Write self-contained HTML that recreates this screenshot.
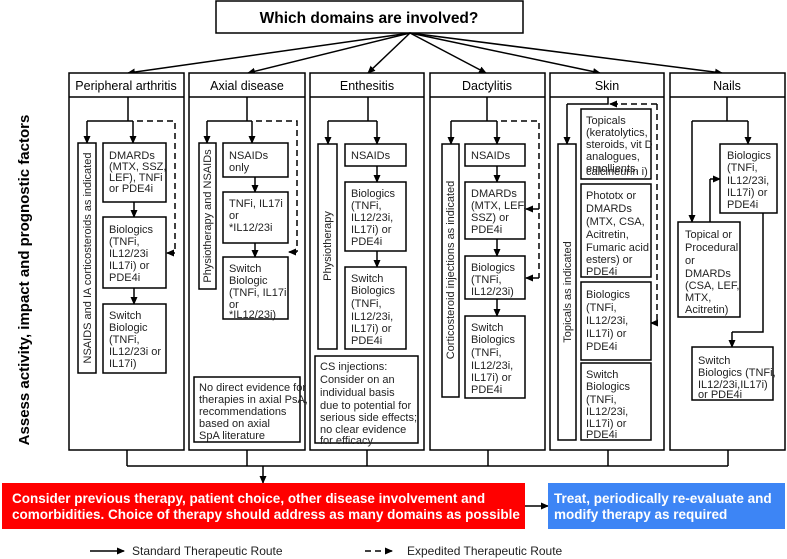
<!DOCTYPE html>
<html><head><meta charset="utf-8"><style>
html,body{margin:0;padding:0;background:#fff;}
svg{display:block;font-family:"Liberation Sans",Arial,sans-serif;}
.b{fill:#fff;stroke:#000;stroke-width:1.5;}
.l{fill:none;stroke:#000;stroke-width:1.5;}
.d{fill:none;stroke:#000;stroke-width:1.5;stroke-dasharray:6,4;}
.t{font-size:11px;fill:#222;}
.h{font-size:12.5px;fill:#000;text-anchor:middle;}
</style></head><body>
<svg width="787" height="559" viewBox="0 0 787 559" xmlns="http://www.w3.org/2000/svg">
<defs>
<marker id="a" markerWidth="8" markerHeight="8" refX="7" refY="4" orient="auto" markerUnits="userSpaceOnUse"><path d="M0,0.5 L8,4 L0,7.5 Z" fill="#000"/></marker>
</defs>
<!-- title -->
<rect class="b" x="216" y="1" width="307" height="32"/>
<text x="369" y="23" font-size="15.5" font-weight="bold" text-anchor="middle">Which domains are involved?</text>
<g class="l" marker-end="url(#a)">
<line x1="410" y1="33" x2="128" y2="73"/>
<line x1="410" y1="33" x2="248" y2="73"/>
<line x1="410" y1="33" x2="368" y2="73"/>
<line x1="410" y1="33" x2="486" y2="73"/>
<line x1="410" y1="33" x2="600" y2="73"/>
<line x1="410" y1="33" x2="722" y2="73"/>
</g>
<text transform="translate(29,280) rotate(-90)" font-size="15" font-weight="bold" text-anchor="middle">Assess activity, impact and prognostic factors</text>

<!-- columns -->
<g>
<rect class="b" x="69" y="73" width="115" height="377"/><line class="l" x1="69" y1="97" x2="184" y2="97"/>
<rect class="b" x="189" y="73" width="116" height="377"/><line class="l" x1="189" y1="97" x2="305" y2="97"/>
<rect class="b" x="310" y="73" width="114" height="377"/><line class="l" x1="310" y1="97" x2="424" y2="97"/>
<rect class="b" x="430" y="73" width="115" height="377"/><line class="l" x1="430" y1="97" x2="545" y2="97"/>
<rect class="b" x="550" y="73" width="114" height="377"/><line class="l" x1="550" y1="97" x2="664" y2="97"/>
<rect class="b" x="670" y="73" width="115" height="377"/><line class="l" x1="670" y1="97" x2="785" y2="97"/>
</g>
<text class="h" x="126" y="90">Peripheral arthritis</text>
<text class="h" x="247" y="90">Axial disease</text>
<text class="h" x="367" y="90">Enthesitis</text>
<text class="h" x="487" y="90">Dactylitis</text>
<text class="h" x="607" y="90">Skin</text>
<text class="h" x="727" y="90">Nails</text>

<!-- Peripheral -->
<path class="l" d="M128,97 V121 M87,121 H133"/>
<line class="l" x1="87" y1="121" x2="87" y2="143" marker-end="url(#a)"/>
<line class="l" x1="133" y1="121" x2="133" y2="143" marker-end="url(#a)"/>
<path class="d" d="M137,121 H175 V253"/>
<line class="l" x1="175" y1="253" x2="167" y2="253" marker-end="url(#a)"/>
<rect class="b" x="78" y="143" width="18" height="230"/>
<text class="t" transform="translate(91,258) rotate(-90)" text-anchor="middle">NSAIDS and IA corticosteroids as indicated</text>
<rect class="b" x="103" y="143" width="63" height="59"/>
<text class="t"><tspan x="109" y="159">DMARDs</tspan><tspan x="109" y="170">(MTX, SSZ,</tspan><tspan x="109" y="181">LEF), TNFi</tspan><tspan x="109" y="192">or PDE4i</tspan></text>
<line class="l" x1="134" y1="202" x2="134" y2="217" marker-end="url(#a)"/>
<rect class="b" x="103" y="217" width="63" height="71"/>
<text class="t"><tspan x="109" y="233">Biologics</tspan><tspan x="109" y="245">(TNFi,</tspan><tspan x="109" y="257">IL12/23i</tspan><tspan x="109" y="269">IL17i) or</tspan><tspan x="109" y="281">PDE4i</tspan></text>
<line class="l" x1="134" y1="288" x2="134" y2="304" marker-end="url(#a)"/>
<rect class="b" x="103" y="304" width="63" height="69"/>
<text class="t"><tspan x="109" y="319">Switch</tspan><tspan x="109" y="331">Biologic</tspan><tspan x="109" y="343">(TNFi,</tspan><tspan x="109" y="355">IL12/23i or</tspan><tspan x="109" y="367">IL17i)</tspan></text>

<!-- Axial -->
<path class="l" d="M247,97 V121 M207,121 H252"/>
<line class="l" x1="207" y1="121" x2="207" y2="143" marker-end="url(#a)"/>
<line class="l" x1="252" y1="121" x2="252" y2="143" marker-end="url(#a)"/>
<path class="d" d="M256,121 H297 V252"/>
<line class="l" x1="297" y1="252" x2="289" y2="252" marker-end="url(#a)"/>
<rect class="b" x="199" y="143" width="17" height="146"/>
<text class="t" transform="translate(211,216) rotate(-90)" text-anchor="middle">Physiotherapy and NSAIDs</text>
<rect class="b" x="223" y="143" width="65" height="34"/>
<text class="t"><tspan x="229" y="159">NSAIDs</tspan><tspan x="229" y="171">only</tspan></text>
<line class="l" x1="255" y1="177" x2="255" y2="192" marker-end="url(#a)"/>
<rect class="b" x="223" y="192" width="65" height="51"/>
<text class="t"><tspan x="229" y="207">TNFi, IL17i</tspan><tspan x="229" y="219">or</tspan><tspan x="229" y="231">*IL12/23i</tspan></text>
<line class="l" x1="255" y1="243" x2="255" y2="257" marker-end="url(#a)"/>
<rect class="b" x="223" y="257" width="65" height="62"/>
<text class="t"><tspan x="229" y="272">Switch</tspan><tspan x="229" y="284">Biologic</tspan><tspan x="229" y="296">(TNFi, IL17i</tspan><tspan x="229" y="308">or</tspan><tspan x="229" y="318">*IL12/23i)</tspan></text>
<rect class="b" x="194" y="377" width="106" height="65"/>
<text class="t"><tspan x="199" y="391">No direct evidence for</tspan><tspan x="199" y="403">therapies in axial PsA,</tspan><tspan x="199" y="415">recommendations</tspan><tspan x="199" y="427">based on axial</tspan><tspan x="199" y="439">SpA literature</tspan></text>

<!-- Enthesitis -->
<path class="l" d="M368,97 V121 M328,121 H377"/>
<line class="l" x1="328" y1="121" x2="328" y2="144" marker-end="url(#a)"/>
<line class="l" x1="377" y1="121" x2="377" y2="144" marker-end="url(#a)"/>
<rect class="b" x="318" y="144" width="19" height="205"/>
<text class="t" transform="translate(331,246) rotate(-90)" text-anchor="middle">Physiotherapy</text>
<rect class="b" x="345" y="144" width="61" height="22"/>
<text class="t" x="351" y="159">NSAIDs</text>
<line class="l" x1="377" y1="166" x2="377" y2="182" marker-end="url(#a)"/>
<rect class="b" x="345" y="182" width="61" height="69"/>
<text class="t"><tspan x="351" y="197">Biologics</tspan><tspan x="351" y="209">(TNFi,</tspan><tspan x="351" y="221">IL12/23i,</tspan><tspan x="351" y="233">IL17i) or</tspan><tspan x="351" y="245">PDE4i</tspan></text>
<line class="l" x1="377" y1="251" x2="377" y2="267" marker-end="url(#a)"/>
<rect class="b" x="345" y="267" width="61" height="82"/>
<text class="t"><tspan x="351" y="282">Switch</tspan><tspan x="351" y="294">Biologics</tspan><tspan x="351" y="307">(TNFi,</tspan><tspan x="351" y="320">IL12/23i,</tspan><tspan x="351" y="332">IL17i) or</tspan><tspan x="351" y="344">PDE4i</tspan></text>
<rect class="b" x="315" y="356" width="103" height="87"/>
<text class="t"><tspan x="320" y="370">CS injections:</tspan><tspan x="320" y="383">Consider on an</tspan><tspan x="320" y="396">individual basis</tspan><tspan x="320" y="409">due to potential for</tspan><tspan x="320" y="421">serious side effects;</tspan><tspan x="320" y="433">no clear evidence</tspan><tspan x="320" y="444">for efficacy</tspan></text>

<!-- Dactylitis -->
<path class="l" d="M487,97 V121 M451,121 H497"/>
<line class="l" x1="451" y1="121" x2="451" y2="144" marker-end="url(#a)"/>
<line class="l" x1="497" y1="121" x2="497" y2="144" marker-end="url(#a)"/>
<path class="d" d="M501,121 H539 V278"/>
<line class="l" x1="539" y1="209" x2="526" y2="209" marker-end="url(#a)"/>
<line class="l" x1="539" y1="278" x2="526" y2="278" marker-end="url(#a)"/>
<rect class="b" x="442" y="144" width="17" height="253"/>
<text class="t" transform="translate(454,270) rotate(-90)" text-anchor="middle">Corticosteroid injections as indicated</text>
<rect class="b" x="465" y="144" width="60" height="22"/>
<text class="t" x="471" y="159">NSAIDs</text>
<line class="l" x1="497" y1="166" x2="497" y2="182" marker-end="url(#a)"/>
<rect class="b" x="465" y="182" width="60" height="57"/>
<text class="t"><tspan x="471" y="197">DMARDs</tspan><tspan x="471" y="209">(MTX, LEF,</tspan><tspan x="471" y="221">SSZ) or</tspan><tspan x="471" y="233">PDE4i</tspan></text>
<line class="l" x1="497" y1="239" x2="497" y2="256" marker-end="url(#a)"/>
<rect class="b" x="465" y="256" width="60" height="43"/>
<text class="t"><tspan x="471" y="271">Biologics</tspan><tspan x="471" y="283">(TNFi,</tspan><tspan x="471" y="295">IL12/23i)</tspan></text>
<line class="l" x1="497" y1="299" x2="497" y2="316" marker-end="url(#a)"/>
<rect class="b" x="465" y="316" width="60" height="82"/>
<text class="t"><tspan x="471" y="331">Switch</tspan><tspan x="471" y="343">Biologics</tspan><tspan x="471" y="356">(TNFi,</tspan><tspan x="471" y="369">IL12/23i,</tspan><tspan x="471" y="381">IL17i) or</tspan><tspan x="471" y="393">PDE4i</tspan></text>

<!-- Skin -->
<path class="l" d="M608,97 V104 H567"/>
<line class="l" x1="567" y1="104" x2="567" y2="144" marker-end="url(#a)"/>
<path class="d" d="M657,104 V323 M657,104 H620"/>
<line class="l" x1="618" y1="104" x2="610" y2="104" marker-end="url(#a)"/>
<line class="l" x1="657" y1="323" x2="651" y2="323" marker-end="url(#a)"/>
<rect class="b" x="558" y="144" width="18" height="296"/>
<text class="t" transform="translate(571,292) rotate(-90)" text-anchor="middle">Topicals as indicated</text>
<rect class="b" x="581" y="109" width="70" height="70"/>
<text class="t"><tspan x="586" y="124">Topicals</tspan><tspan x="586" y="136">(keratolytics,</tspan><tspan x="586" y="148">steroids, vit D</tspan><tspan x="586" y="160">analogues,</tspan><tspan x="586" y="172">emollients,</tspan><tspan x="586" y="184" dy="-9">calcineurin i)</tspan></text>
<rect class="b" x="581" y="184" width="70" height="93"/>
<text class="t"><tspan x="586" y="199">Phototx or</tspan><tspan x="586" y="212">DMARDs</tspan><tspan x="586" y="225">(MTX, CSA,</tspan><tspan x="586" y="238">Acitretin,</tspan><tspan x="586" y="251">Fumaric acid</tspan><tspan x="586" y="263">esters) or</tspan><tspan x="586" y="275">PDE4i</tspan></text>
<rect class="b" x="581" y="282" width="70" height="78"/>
<text class="t"><tspan x="586" y="298">Biologics</tspan><tspan x="586" y="311">(TNFi,</tspan><tspan x="586" y="324">IL12/23i,</tspan><tspan x="586" y="337">IL17i) or</tspan><tspan x="586" y="350">PDE4i</tspan></text>
<rect class="b" x="581" y="363" width="70" height="77"/>
<text class="t"><tspan x="586" y="378">Switch</tspan><tspan x="586" y="390">Biologics</tspan><tspan x="586" y="403">(TNFi,</tspan><tspan x="586" y="415">IL12/23i,</tspan><tspan x="586" y="427">IL17i) or</tspan><tspan x="586" y="438">PDE4i</tspan></text>

<!-- Nails -->
<path class="l" d="M727,97 V121 M692,121 H748"/>
<line class="l" x1="748" y1="121" x2="748" y2="144" marker-end="url(#a)"/>
<line class="l" x1="692" y1="121" x2="692" y2="222" marker-end="url(#a)"/>
<path class="l" d="M710,222 V179"/>
<line class="l" x1="710" y1="179" x2="720" y2="179" marker-end="url(#a)"/>
<path class="l" d="M763,213 V332 H732"/>
<line class="l" x1="732" y1="332" x2="732" y2="347" marker-end="url(#a)"/>
<rect class="b" x="720" y="144" width="57" height="69"/>
<text class="t"><tspan x="727" y="159">Biologics</tspan><tspan x="727" y="171">(TNFi,</tspan><tspan x="727" y="184">IL12/23i,</tspan><tspan x="727" y="196">IL17i) or</tspan><tspan x="727" y="208">PDE4i</tspan></text>
<rect class="b" x="678" y="222" width="62" height="95"/>
<text class="t"><tspan x="685" y="238">Topical or</tspan><tspan x="685" y="251">Procedural</tspan><tspan x="685" y="264">or</tspan><tspan x="685" y="277">DMARDs</tspan><tspan x="685" y="289">(CSA, LEF,</tspan><tspan x="685" y="301">MTX,</tspan><tspan x="685" y="313">Acitretin)</tspan></text>
<rect class="b" x="692" y="347" width="81" height="53"/>
<text class="t"><tspan x="698" y="364">Switch</tspan><tspan x="698" y="376">Biologics (TNFi,</tspan><tspan x="698" y="388">IL12/23i,IL17i)</tspan><tspan x="698" y="400" dy="-2">or PDE4i</tspan></text>

<!-- bottom connectors -->
<path class="l" d="M127,450 V466 M247,450 V466 M367,450 V466 M488,450 V466 M608,450 V466 M728,450 V466 M127,466 H728"/>
<line class="l" x1="263" y1="466" x2="263" y2="483" marker-end="url(#a)"/>
<rect x="2" y="483" width="523" height="46" fill="#f00"/>
<text font-size="13.5" font-weight="bold" fill="#fff"><tspan x="12" y="503">Consider previous therapy, patient choice, other disease involvement and</tspan><tspan x="12" y="519">comorbidities. Choice of therapy should address as many domains as possible</tspan></text>
<line class="l" x1="525" y1="506" x2="548" y2="506" marker-end="url(#a)"/>
<rect x="548" y="483" width="237" height="46" fill="#3d85f5"/>
<text font-size="13.5" font-weight="bold" fill="#fff"><tspan x="554" y="503">Treat, periodically re-evaluate and</tspan><tspan x="554" y="519">modify therapy as required</tspan></text>

<!-- legend -->
<line class="l" x1="90" y1="551" x2="124" y2="551" marker-end="url(#a)"/>
<text x="132" y="555" font-size="12" fill="#222">Standard Therapeutic Route</text>
<line class="d" x1="365" y1="551" x2="385" y2="551" stroke-dasharray="4,4"/>
<line class="l" x1="386" y1="551" x2="392" y2="551" marker-end="url(#a)"/>
<text x="407" y="555" font-size="12" fill="#222">Expedited Therapeutic Route</text>
</svg>
</body></html>
